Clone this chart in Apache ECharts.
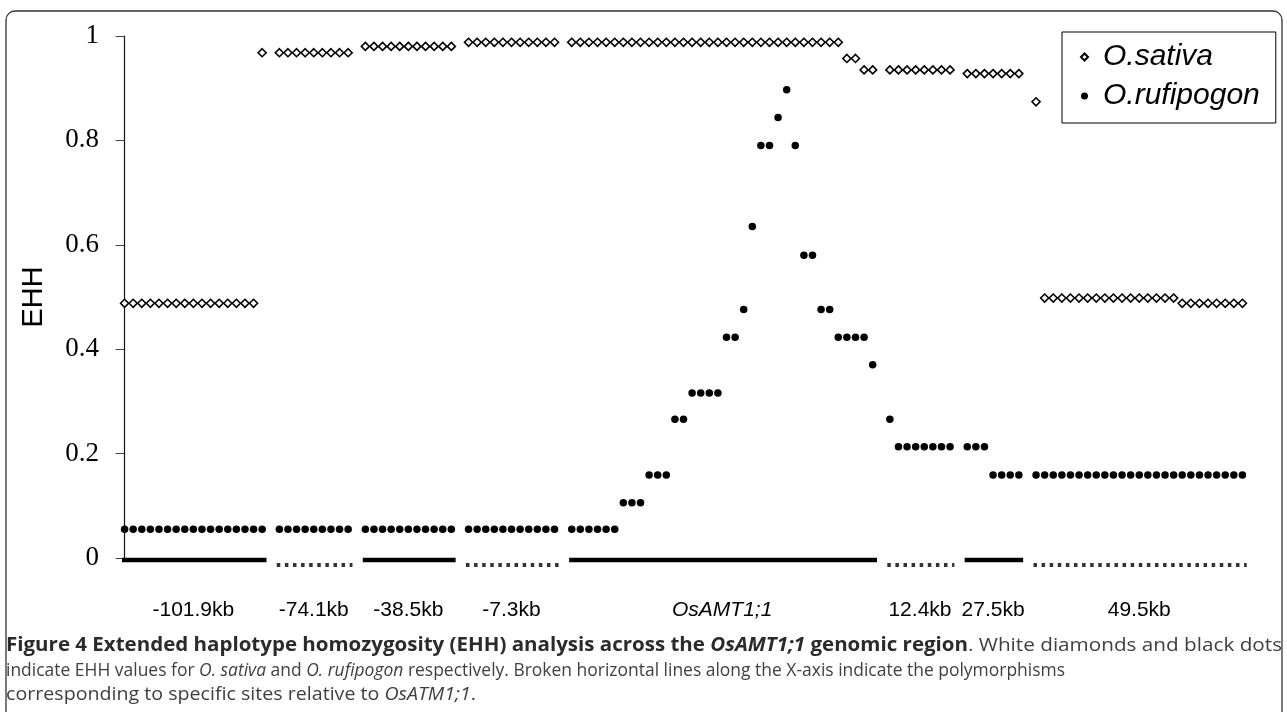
<!DOCTYPE html>
<html>
<head>
<meta charset="utf-8">
<script src="https://cdn.jsdelivr.net/npm/echarts@6/dist/echarts.min.js"></script>
<style>html,body{margin:0;padding:0;background:#fff;}#chart{width:1287px;height:712px;}</style>
</head>
<body>
<div id="chart"></div>
<script>
// ---- data ----
const groupLabels = ['-101.9kb', '-74.1kb', '-38.5kb', '-7.3kb', 'OsAMT1;1', '12.4kb', '27.5kb', '49.5kb'];
const groupLineTypes = ['solid', 'dotted', 'solid', 'dotted', 'solid', 'dotted', 'solid', 'dotted'];
const yTicks = [0, 0.2, 0.4, 0.6, 0.8, 1];

// O.sativa EHH (white diamonds), per region
const sativaG1 = [0.488, 0.488, 0.488, 0.488, 0.488, 0.488, 0.488, 0.488, 0.488, 0.488, 0.488, 0.488, 0.488, 0.488, 0.488, 0.488, 0.968];
const sativaG2 = [0.968, 0.968, 0.968, 0.968, 0.968, 0.968, 0.968, 0.968, 0.968];
const sativaG3 = [0.980, 0.980, 0.980, 0.980, 0.980, 0.980, 0.980, 0.980, 0.980, 0.980, 0.980];
const sativaG4 = [0.988, 0.988, 0.988, 0.988, 0.988, 0.988, 0.988, 0.988, 0.988, 0.988, 0.988];
const sativaG5 = [0.988, 0.988, 0.988, 0.988, 0.988, 0.988, 0.988, 0.988, 0.988, 0.988, 0.988, 0.988, 0.988, 0.988, 0.988, 0.988,
                  0.988, 0.988, 0.988, 0.988, 0.988, 0.988, 0.988, 0.988, 0.988, 0.988, 0.988, 0.988, 0.988, 0.988, 0.988, 0.988,
                  0.957, 0.957, 0.935, 0.935];
const sativaG6 = [0.935, 0.935, 0.935, 0.935, 0.935, 0.935, 0.935, 0.935];
const sativaG7 = [0.928, 0.928, 0.928, 0.928, 0.928, 0.928, 0.928];
const sativaG8 = [0.874, 0.498, 0.498, 0.498, 0.498, 0.498, 0.498, 0.498, 0.498, 0.498, 0.498, 0.498, 0.498, 0.498, 0.498, 0.498, 0.498,
                  0.488, 0.488, 0.488, 0.488, 0.488, 0.488, 0.488, 0.488];

// O.rufipogon EHH (black dots), per region
const rufiG1 = [0.055, 0.055, 0.055, 0.055, 0.055, 0.055, 0.055, 0.055, 0.055, 0.055, 0.055, 0.055, 0.055, 0.055, 0.055, 0.055, 0.055];
const rufiG2 = [0.055, 0.055, 0.055, 0.055, 0.055, 0.055, 0.055, 0.055, 0.055];
const rufiG3 = [0.055, 0.055, 0.055, 0.055, 0.055, 0.055, 0.055, 0.055, 0.055, 0.055, 0.055];
const rufiG4 = [0.055, 0.055, 0.055, 0.055, 0.055, 0.055, 0.055, 0.055, 0.055, 0.055, 0.055];
const rufiG5 = [0.055, 0.055, 0.055, 0.055, 0.055, 0.055, 0.106, 0.106, 0.106, 0.159, 0.159, 0.159,
                0.266, 0.266, 0.316, 0.316, 0.316, 0.316, 0.423, 0.423, 0.476, 0.635, 0.790, 0.790,
                0.844, 0.897, 0.790, 0.580, 0.580, 0.476, 0.476, 0.423, 0.423, 0.423, 0.423, 0.370];
const rufiG6 = [0.266, 0.213, 0.213, 0.213, 0.213, 0.213, 0.213, 0.213];
const rufiG7 = [0.213, 0.213, 0.213, 0.159, 0.159, 0.159, 0.159];
const rufiG8 = [0.159, 0.159, 0.159, 0.159, 0.159, 0.159, 0.159, 0.159, 0.159, 0.159, 0.159, 0.159, 0.159,
                0.159, 0.159, 0.159, 0.159, 0.159, 0.159, 0.159, 0.159, 0.159, 0.159, 0.159, 0.159];

const sativaGroups = [sativaG1, sativaG2, sativaG3, sativaG4, sativaG5, sativaG6, sativaG7, sativaG8];
const rufiGroups = [rufiG1, rufiG2, rufiG3, rufiG4, rufiG5, rufiG6, rufiG7, rufiG8];

// ---- build positions (one slot per site, one empty slot between regions) ----
const sativaData = [], rufiData = [], segments = [], centers = [];
let offset = 0;
for (let g = 0; g < sativaGroups.length; g++) {
  const n = sativaGroups[g].length;
  sativaGroups[g].forEach((v, i) => sativaData.push([offset + i, v]));
  rufiGroups[g].forEach((v, i) => rufiData.push([offset + i, v]));
  segments.push([offset - 0.3, offset + n - 1 + 0.5, g]);
  centers.push(offset + (n - 1) / 2);
  offset += n + 1;
}
const lastIndex = offset - 2;

// ---- caption ----
const capFont = '"Open Sans"';
const capSize = 19;
const capBold = [['b', 'Figure 4 Extended haplotype homozygosity (EHH) analysis across the '], ['bi', 'OsAMT1;1'], ['b', ' genomic region']];
const capLine1Rest = [['n', '. White diamonds and black dots']];
const capLine2 = [['n', 'indicate EHH values for '], ['i', 'O. sativa'], ['n', ' and '], ['i', 'O. rufipogon'], ['n', ' respectively. Broken horizontal lines along the X-axis indicate the polymorphisms']];
const capLine3 = [['n', 'corresponding to specific sites relative to '], ['i', 'OsATM1;1'], ['n', '.']];
const capY = [646, 671, 695];
const richDef = {
  b: { fontFamily: capFont, fontSize: capSize, fontWeight: 'bold', fill: '#2b2b2b' },
  bi: { fontFamily: capFont, fontSize: capSize, fontWeight: 'bold', fontStyle: 'italic', fill: '#2b2b2b' },
  n: { fontFamily: capFont, fontSize: capSize, fill: '#3f3f3f' },
  i: { fontFamily: capFont, fontSize: capSize, fontStyle: 'italic', fill: '#3f3f3f' }
};
const cssFont = { b: 'bold ' + capSize + 'px ' + capFont, bi: 'italic bold ' + capSize + 'px ' + capFont, n: capSize + 'px ' + capFont, i: 'italic ' + capSize + 'px ' + capFont };
const mctx = document.createElement('canvas').getContext('2d');
function runWidth(segs) { let w = 0; segs.forEach(s => { mctx.font = cssFont[s[0]]; w += mctx.measureText(s[1]).width; }); return w; }
function richText(segs) { return segs.map(s => '{' + s[0] + '|' + s[1] + '}').join(''); }
const left0 = 6;
const boldEnd = 968;
function capText(x, y, scale, segs) {
  return { type: 'text', x: x, y: y, scaleX: scale, silent: true,
    style: { text: richText(segs), rich: richDef, verticalAlign: 'middle', align: 'left' } };
}
const capElems = [
  capText(left0, capY[0], (boldEnd - left0) / runWidth(capBold), capBold),
  capText(boldEnd, capY[0], (1282 - boldEnd) / runWidth(capLine1Rest), capLine1Rest),
  capText(left0, capY[1], 1059 / runWidth(capLine2), capLine2),
  capText(left0, capY[2], 470 / runWidth(capLine3), capLine3)
];

const chart = echarts.init(document.getElementById('chart'), null, { renderer: 'canvas' });
chart.setOption({
  animation: false,
  backgroundColor: '#fff',
  grid: { left: 122, right: 42, top: 36, bottom: 154 },
  xAxis: {
    type: 'value', min: -0.3, max: lastIndex + 0.3,
    axisLine: { show: false }, axisTick: { show: false }, splitLine: { show: false },
    axisLabel: {
      customValues: centers, margin: 42, fontFamily: 'Liberation Sans', fontSize: 21, color: '#000',
      formatter: function (v) {
        const k = centers.findIndex(c => Math.abs(c - v) < 1e-6);
        const t = k >= 0 ? groupLabels[k] : '';
        return t === 'OsAMT1;1' ? '{it|' + t + '}' : t;
      },
      rich: { it: { fontStyle: 'italic', fontFamily: 'Liberation Sans', fontSize: 21, color: '#000' } }
    }
  },
  yAxis: {
    type: 'value', min: 0, max: 1, interval: 0.2,
    name: 'EHH', nameLocation: 'middle', nameGap: 74,
    nameTextStyle: { fontFamily: 'Liberation Sans', fontSize: 29, color: '#000' },
    axisLine: { show: true, lineStyle: { color: '#111', width: 1.2 } },
    axisTick: { show: true, length: 9, lineStyle: { color: '#444', width: 1 } },
    splitLine: { show: false },
    axisLabel: { margin: 23, fontFamily: 'Liberation Serif', fontSize: 27, color: '#000',
      customValues: yTicks, formatter: v => String(Math.round(v * 10) / 10) }
  },
  legend: {
    orient: 'vertical', left: 1062, top: 32,
    backgroundColor: '#fff', borderColor: '#000', borderWidth: 1, borderRadius: 0,
    padding: [10, 16, 12, 18], itemGap: 9, itemWidth: 7, itemHeight: 7,
    textStyle: { fontFamily: 'Liberation Sans', fontStyle: 'italic', fontSize: 30, color: '#000', padding: [0, 0, 0, 10] },
    data: ['O.sativa', 'O.rufipogon']
  },
  graphic: [
    { type: 'rect', shape: { x: 6, y: 11, width: 1276, height: 760, r: 9 }, style: { fill: 'none', stroke: '#333', lineWidth: 1.3 }, silent: true, z: 0 }
  ].concat(capElems),
  series: [
    {
      type: 'custom', name: 'regions', clip: false, silent: true,
      data: segments,
      renderItem: function (params, api) {
        const p1 = api.coord([api.value(0), 0]);
        const p2 = api.coord([api.value(1), 0]);
        const solid = groupLineTypes[api.value(2)] === 'solid';
        const dy = solid ? 2 : 7;
        return {
          type: 'line',
          shape: { x1: p1[0], y1: p1[1] + dy, x2: p2[0], y2: p2[1] + dy },
          style: solid ? { stroke: '#000', lineWidth: 4.5 } : { stroke: '#333', lineWidth: 4, lineDash: [3.5, 4.6] }
        };
      }
    },
    {
      type: 'scatter', name: 'O.sativa', clip: false, symbol: 'diamond', symbolSize: 8,
      itemStyle: { color: '#fff', borderColor: '#000', borderWidth: 1.6, opacity: 1 },
      data: sativaData, z: 3
    },
    {
      type: 'scatter', name: 'O.rufipogon', clip: false, symbol: 'circle', symbolSize: 7.5,
      itemStyle: { color: '#000', opacity: 1 },
      data: rufiData, z: 4
    }
  ]
});
</script>
</body>
</html>
